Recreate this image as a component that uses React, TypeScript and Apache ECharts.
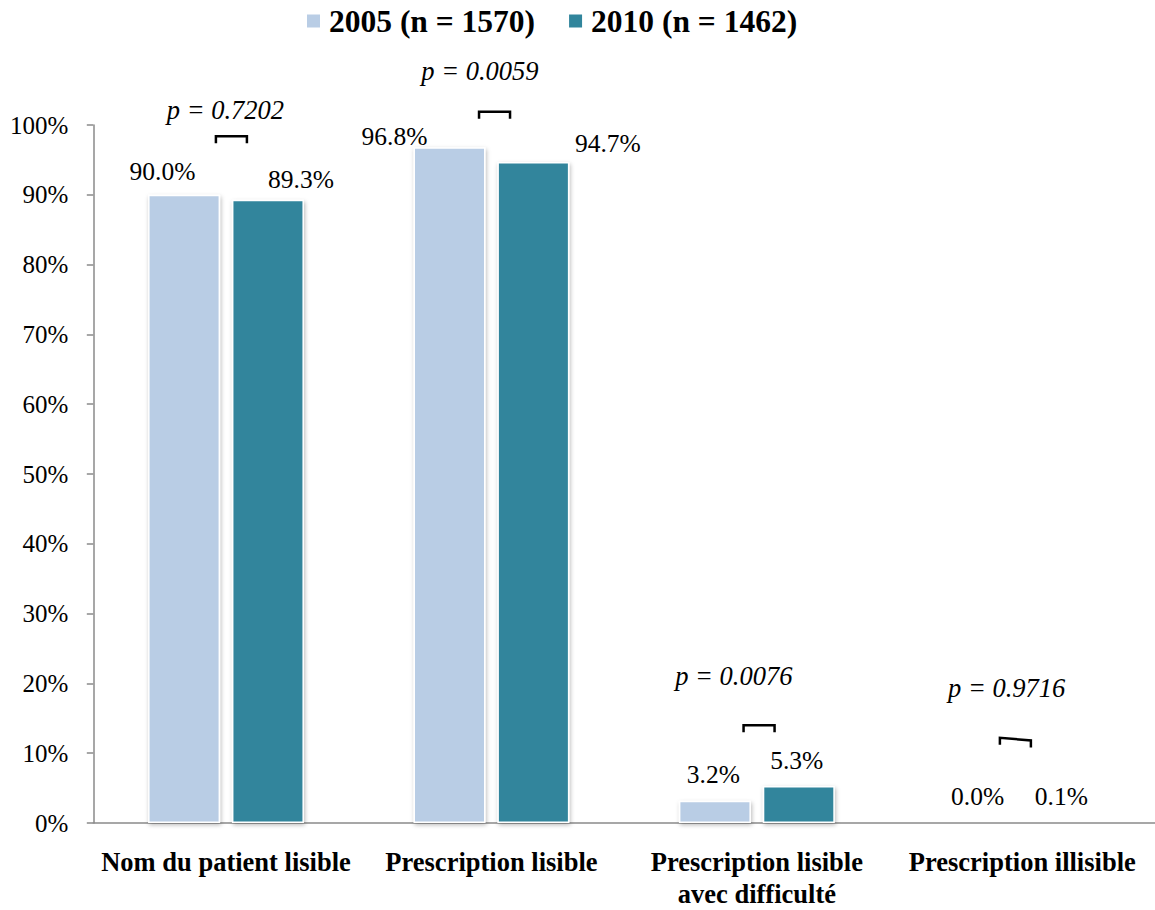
import { useEffect, useRef } from 'react';
import * as echarts from 'echarts';

const categories = [
  'Nom du patient lisible',
  'Prescription lisible',
  'Prescription lisible\navec difficulté',
  'Prescription illisible',
];
const seriesNames = ['2005 (n = 1570)', '2010 (n = 1462)'];
const values2005 = [90.0, 96.8, 3.2, 0.0];
const values2010 = [89.3, 94.7, 5.3, 0.1];
const pValues = ['p = 0.7202', 'p = 0.0059', 'p = 0.0076', 'p = 0.9716'];

// layout of annotations (value-space levels + pixel nudges)
const pLabelLevel = [102.2, 107.8, 21.1, 19.4];
const pLabelDx = [-0.6, -11.5, -23.1, -15.6];
const bracketLevel = [98.4, 101.9, 14.0, 12.2];
const bracketDx = [5.4, 3.1, 2.2, -6.9];
const bracketTilt = [0, 0, 0, 2.6];
const labelOffsets2005 = [[-21.6, -10.7], [-55, 2.6], [-1.5, -12.7], [-2.7, -12.5]];
const labelOffsets2010 = [[33, -7.3], [74.5, -5.9], [-2, -12.2], [-2.9, -12.7]];

const FONT = 'Liberation Serif, serif';
const C2005 = '#B9CDE5';
const C2010 = '#31859C';
const AXIS = '#8a8a8a';

export default function App() {
  const ref = useRef<HTMLDivElement>(null);
  useEffect(() => {
    if (!ref.current) return;
    const chart = echarts.init(ref.current, null, { renderer: 'svg' });
    const barStyle = (color: string) => ({
      color,
      borderColor: '#ffffff',
      borderWidth: 1.5,
      shadowBlur: 4,
      shadowColor: 'rgba(0,0,0,0.28)',
      shadowOffsetX: 1,
      shadowOffsetY: 2,
    });
    const label = {
      show: true,
      position: 'top',
      distance: 0,
      fontFamily: FONT,
      fontSize: 25.5,
      color: '#000',
      formatter: (p: any) => Number(p.value).toFixed(1) + '%',
    };
    chart.setOption({
      animation: false,
      textStyle: { fontFamily: FONT },
      legend: {
        data: seriesNames,
        left: 305,
        top: 5,
        padding: 0,
        icon: 'rect',
        itemWidth: 15,
        itemHeight: 15,
        itemGap: 32,
        selectedMode: false,
        textStyle: {
          fontFamily: FONT,
          fontWeight: 'bold',
          fontSize: 31.5,
          color: '#000',
          padding: [0, 0, 0, 3],
        },
      },
      grid: { left: 93.3, right: -4.7, top: 125, bottom: 83.3 },
      xAxis: {
        type: 'category',
        data: categories,
        axisLine: { lineStyle: { color: AXIS, width: 1.5 } },
        axisTick: { length: 8, lineStyle: { color: AXIS, width: 1.5 } },
        axisLabel: {
          margin: 23,
          fontFamily: FONT,
          fontWeight: 'bold',
          fontSize: 26.5,
          lineHeight: 32,
          color: '#000',
          interval: 0,
        },
      },
      yAxis: {
        type: 'value',
        min: 0,
        max: 100,
        interval: 10,
        splitLine: { show: false },
        axisLine: { show: true, lineStyle: { color: AXIS, width: 1.5 } },
        axisTick: { show: true, length: 6.5, lineStyle: { color: AXIS, width: 1.5 } },
        axisLabel: {
          margin: 25,
          fontFamily: FONT,
          fontSize: 25,
          color: '#000',
          formatter: '{value}%',
        },
      },
      series: [
        {
          name: seriesNames[0],
          type: 'bar',
          barWidth: 72,
          barGap: '16.5%',
          itemStyle: barStyle(C2005),
          label,
          data: values2005.map((v, i) => ({ value: v, label: { offset: labelOffsets2005[i] } })),
        },
        {
          name: seriesNames[1],
          type: 'bar',
          barWidth: 72,
          barGap: '16.5%',
          itemStyle: barStyle(C2010),
          label,
          data: values2010.map((v, i) => ({ value: v, label: { offset: labelOffsets2010[i] } })),
        },
      ],
    });

    const els: any[] = [];
    pValues.forEach((txt, i) => {
      const pt = chart.convertToPixel({ gridIndex: 0 } as any, [i, pLabelLevel[i]]) as number[];
      els.push({
        type: 'text',
        x: pt[0] + pLabelDx[i],
        y: pt[1],
        style: {
          text: txt,
          fontFamily: FONT,
          fontStyle: 'italic',
          fontSize: 26.5,
          fill: '#000',
          align: 'center',
          verticalAlign: 'middle',
        },
      });
      const b = chart.convertToPixel({ gridIndex: 0 } as any, [i, bracketLevel[i]]) as number[];
      const cx = b[0] + bracketDx[i];
      const y = b[1];
      const t = bracketTilt[i];
      els.push({
        type: 'polyline',
        shape: {
          points: [
            [cx - 15.5, y + 7],
            [cx - 15.5, y],
            [cx + 15.5, y + t],
            [cx + 15.5, y + t + 7],
          ],
        },
        style: { stroke: '#000', lineWidth: 2.5, fill: null },
      });
    });
    chart.setOption({ graphic: els });

    return () => chart.dispose();
  }, []);
  return (
    <div
      ref={ref}
      style={{ position: 'fixed', left: 0, top: 0, width: 1155, height: 910, background: '#fff' }}
    />
  );
}
